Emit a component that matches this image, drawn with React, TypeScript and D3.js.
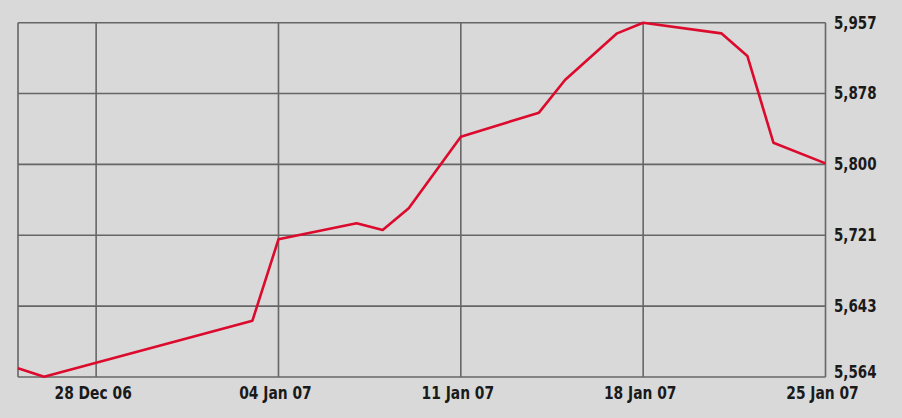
import React from "react";
import * as d3 from "d3";

const dates: string[] = [
  "2006-12-25", "2006-12-26", "2007-01-03", "2007-01-04", "2007-01-07",
  "2007-01-08", "2007-01-09", "2007-01-11", "2007-01-14", "2007-01-15",
  "2007-01-17", "2007-01-18", "2007-01-21", "2007-01-22", "2007-01-23",
  "2007-01-25",
];
const values: number[] = [
  5573.7, 5564.3, 5626.5, 5716.7, 5734.5,
  5727.1, 5751.1, 5830.6, 5857.2, 5893.4,
  5945.2, 5957.0, 5945.2, 5920.1, 5823.9,
  5801.0,
];
const xTickDates: string[] = ["2006-12-28", "2007-01-04", "2007-01-11", "2007-01-18", "2007-01-25"];
const xTickLabels: string[] = ["28 Dec 06", "04 Jan 07", "11 Jan 07", "18 Jan 07", "25 Jan 07"];
const yMin = 5564;
const yMax = 5957;
const yTickCount = 5;

const W = 902;
const H = 418;
const M = { left: 18, right: 825.5, top: 22.7, bottom: 377 };

const parse = d3.timeParse("%Y-%m-%d");
const fmt = d3.format(",.0f");

export default function App() {
  const x = d3
    .scaleTime()
    .domain([parse("2006-12-25") as Date, parse("2007-01-25") as Date])
    .range([M.left, M.right]);
  const y = d3.scaleLinear().domain([yMin, yMax]).range([M.bottom, M.top]);

  const yTicks = d3.range(yTickCount + 1).map((i) => yMin + ((yMax - yMin) * i) / yTickCount);
  const pts = dates.map((d, i) => [parse(d) as Date, values[i]] as [Date, number]);
  const line = d3
    .line<[Date, number]>()
    .x((d) => x(d[0]))
    .y((d) => y(d[1]));

  const font = "'Liberation Sans Narrow', 'DejaVu Sans Condensed', 'Arial Narrow', sans-serif";
  const grid = "#666666";

  return (
    <svg
      width={W}
      height={H}
      style={{ position: "absolute", left: 0, top: 0, background: "#d9d9d9" }}
    >
      <rect x={0} y={0} width={W} height={H} fill="#d9d9d9" />
      {yTicks.map((t, i) => (
        <line key={"hy" + i} x1={M.left} x2={M.right} y1={y(t)} y2={y(t)} stroke={grid} strokeWidth={1.6} />
      ))}
      <line x1={M.left} x2={M.left} y1={M.top} y2={M.bottom} stroke={grid} strokeWidth={1.6} />
      {xTickDates.map((d, i) => {
        const xv = x(parse(d) as Date);
        return (
          <line key={"vx" + i} x1={xv} x2={xv} y1={M.top} y2={M.bottom} stroke={grid} strokeWidth={1.6} />
        );
      })}
      <path d={line(pts) || ""} fill="none" stroke="#dc0a2d" strokeWidth={2.6} strokeLinejoin="round" />
      {yTicks.map((t, i) => (
        <text
          key={"ty" + i}
          transform={`translate(834,${Math.min(y(t), 372)}) scale(0.88,1)`}
          dominantBaseline="central"
          fontFamily={font}
          fontWeight="bold"
          fontSize={17}
          fill="#1a1a1a"
        >
          {fmt(t)}
        </text>
      ))}
      {xTickDates.map((d, i) => (
        <text
          key={"tx" + i}
          transform={`translate(${x(parse(d) as Date) - 3},399) scale(0.88,1)`}
          textAnchor="middle"
          fontFamily={font}
          fontWeight="bold"
          fontSize={17.5}
          fill="#1a1a1a"
        >
          {xTickLabels[i]}
        </text>
      ))}
    </svg>
  );
}
